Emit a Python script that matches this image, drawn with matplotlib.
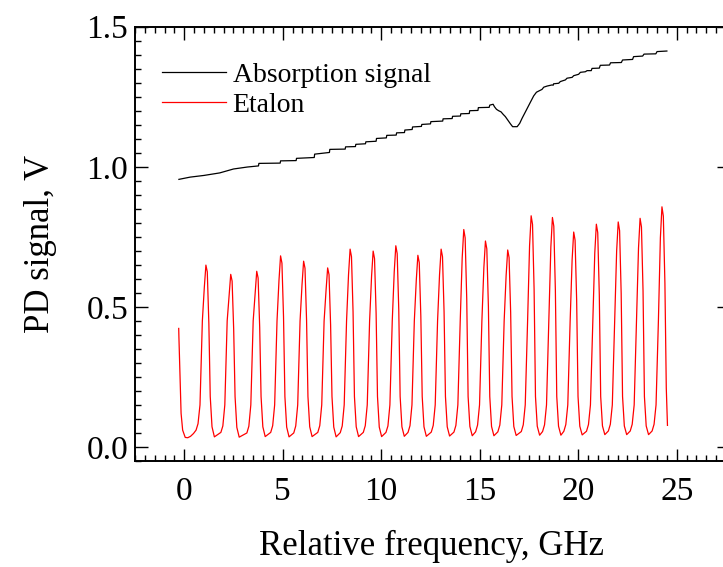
import matplotlib
matplotlib.use("Agg")
import matplotlib.pyplot as plt
from matplotlib.ticker import MultipleLocator

# absorption signal (GHz, V)
absorb_x = [-0.27, 0.30, 1.00, 1.80, 2.50, 3.20, 3.77, 3.79, 4.87, 4.89, 5.68, 5.70,
            6.60, 6.62, 7.37, 7.39, 8.17, 8.19, 8.69, 8.71, 9.20, 9.22, 9.74, 9.76,
            10.26, 10.28, 10.76, 10.78, 11.18, 11.20, 11.57, 11.59, 12.04, 12.06,
            12.50, 12.52, 13.12, 13.14, 13.60, 13.62, 14.02, 14.04, 14.47, 14.49,
            14.91, 14.93, 15.48, 15.51, 15.68, 15.75, 15.85, 15.96, 16.08, 16.19,
            16.30, 16.42, 16.56, 16.67, 16.90, 17.03, 17.15, 17.32, 17.54, 17.74,
            17.88, 17.99, 18.16, 18.25, 18.42, 18.67, 18.73, 18.75, 19.01, 19.09,
            19.35, 19.43, 19.69, 19.77, 20.02, 20.11, 20.36, 20.45, 20.66, 20.70,
            21.07, 21.12, 21.59, 21.64, 22.19, 22.25, 22.76, 22.81, 23.27, 23.34,
            23.94, 24.00, 24.50]
absorb_y = [0.955, 0.963, 0.969, 0.978, 0.992, 0.999, 1.003, 1.012, 1.013, 1.021, 1.022, 1.030,
            1.033, 1.045, 1.051, 1.062, 1.063, 1.071, 1.072, 1.080, 1.082, 1.089, 1.091, 1.101,
            1.103, 1.112, 1.113, 1.121, 1.122, 1.131, 1.133, 1.142, 1.144, 1.151,
            1.153, 1.161, 1.163, 1.171, 1.172, 1.180, 1.181, 1.189, 1.190, 1.200,
            1.201, 1.211, 1.212, 1.220, 1.223, 1.214, 1.205, 1.200, 1.196, 1.187,
            1.179, 1.167, 1.153, 1.143, 1.143, 1.155, 1.173, 1.196, 1.226, 1.253,
            1.266, 1.270, 1.276, 1.284, 1.288, 1.292, 1.291, 1.296, 1.298, 1.304,
            1.310, 1.316, 1.319, 1.325, 1.330, 1.337, 1.339, 1.343, 1.343, 1.351,
            1.352, 1.362, 1.363, 1.371, 1.372, 1.381, 1.383, 1.393, 1.395, 1.402,
            1.403, 1.411, 1.413]

# etalon transmission, one row per fringe
etalon_x = [-0.28, -0.27, -0.16, -0.08, 0.05, 0.18, 0.32, 0.47, 0.60, 0.70, 0.80, 0.92, 1.02,
            1.10, 1.17, 1.25, 1.32, 1.41, 1.53, 1.86, 1.96, 2.06, 2.18, 2.28,
            2.36, 2.43, 2.51, 2.58, 2.67, 2.79, 3.18, 3.28, 3.38, 3.50, 3.60,
            3.68, 3.75, 3.83, 3.90, 3.99, 4.11, 4.39, 4.49, 4.59, 4.71, 4.81,
            4.89, 4.96, 5.04, 5.11, 5.20, 5.32, 5.56, 5.66, 5.76, 5.88, 5.98,
            6.06, 6.13, 6.21, 6.28, 6.37, 6.49, 6.78, 6.88, 6.98, 7.10, 7.20,
            7.28, 7.35, 7.43, 7.50, 7.59, 7.71, 7.92, 8.02, 8.12, 8.24, 8.34,
            8.42, 8.49, 8.57, 8.64, 8.73, 8.85, 9.09, 9.19, 9.29, 9.41, 9.51,
            9.59, 9.66, 9.74, 9.81, 9.90, 10.02, 10.24, 10.34, 10.44, 10.56, 10.66,
            10.74, 10.81, 10.89, 10.96, 11.05, 11.17, 11.36, 11.46, 11.56, 11.68, 11.78,
            11.86, 11.93, 12.01, 12.08, 12.17, 12.29, 12.54, 12.64, 12.74, 12.86, 12.96,
            13.04, 13.11, 13.19, 13.26, 13.35, 13.47, 13.69, 13.79, 13.89, 14.01, 14.11,
            14.19, 14.26, 14.34, 14.41, 14.50, 14.62, 14.79, 14.89, 14.99, 15.11, 15.21,
            15.29, 15.36, 15.44, 15.51, 15.60, 15.72, 15.92, 16.02, 16.12, 16.24, 16.34,
            16.42, 16.49, 16.57, 16.64, 16.73, 16.85, 17.11, 17.21, 17.31, 17.43, 17.53,
            17.61, 17.68, 17.76, 17.83, 17.92, 18.04, 18.19, 18.29, 18.39, 18.51, 18.61,
            18.69, 18.76, 18.84, 18.91, 19.00, 19.12, 19.27, 19.37, 19.47, 19.59, 19.69,
            19.77, 19.84, 19.92, 19.99, 20.08, 20.20, 20.42, 20.52, 20.62, 20.74, 20.84,
            20.92, 20.99, 21.07, 21.14, 21.23, 21.35, 21.53, 21.63, 21.73, 21.85, 21.95,
            22.03, 22.10, 22.18, 22.25, 22.34, 22.46, 22.64, 22.74, 22.84, 22.96, 23.06,
            23.14, 23.21, 23.29, 23.36, 23.45, 23.57, 23.75, 23.85, 23.95, 24.07, 24.17,
            24.25, 24.32, 24.40, 24.47, 24.53]
etalon_y = [0.423, 0.392, 0.120, 0.060, 0.034, 0.033, 0.038, 0.048, 0.060, 0.083, 0.150, 0.450, 0.570,
            0.649, 0.625, 0.440, 0.180, 0.072, 0.036, 0.052, 0.075, 0.150, 0.450, 0.540,
            0.616, 0.592, 0.420, 0.180, 0.070, 0.035, 0.050, 0.074, 0.150, 0.450, 0.550,
            0.627, 0.603, 0.428, 0.180, 0.072, 0.037, 0.052, 0.076, 0.150, 0.450, 0.595,
            0.682, 0.656, 0.465, 0.180, 0.071, 0.036, 0.050, 0.075, 0.150, 0.450, 0.580,
            0.663, 0.638, 0.452, 0.180, 0.072, 0.037, 0.052, 0.076, 0.150, 0.450, 0.560,
            0.639, 0.615, 0.436, 0.180, 0.071, 0.036, 0.051, 0.075, 0.150, 0.450, 0.615,
            0.706, 0.679, 0.482, 0.180, 0.072, 0.037, 0.052, 0.076, 0.150, 0.450, 0.610,
            0.699, 0.672, 0.477, 0.180, 0.071, 0.037, 0.052, 0.075, 0.150, 0.450, 0.625,
            0.718, 0.690, 0.490, 0.180, 0.072, 0.038, 0.052, 0.076, 0.150, 0.450, 0.596,
            0.684, 0.658, 0.467, 0.180, 0.072, 0.038, 0.053, 0.077, 0.150, 0.450, 0.615,
            0.706, 0.679, 0.482, 0.180, 0.072, 0.039, 0.053, 0.077, 0.150, 0.450, 0.675,
            0.776, 0.746, 0.530, 0.180, 0.073, 0.040, 0.054, 0.078, 0.150, 0.450, 0.640,
            0.735, 0.707, 0.502, 0.180, 0.073, 0.040, 0.054, 0.078, 0.150, 0.450, 0.612,
            0.703, 0.676, 0.480, 0.180, 0.073, 0.041, 0.055, 0.079, 0.150, 0.450, 0.718,
            0.825, 0.794, 0.563, 0.180, 0.074, 0.042, 0.055, 0.079, 0.150, 0.450, 0.713,
            0.819, 0.788, 0.559, 0.180, 0.074, 0.042, 0.056, 0.080, 0.150, 0.450, 0.668,
            0.767, 0.738, 0.524, 0.180, 0.074, 0.043, 0.056, 0.080, 0.150, 0.450, 0.692,
            0.795, 0.765, 0.543, 0.180, 0.075, 0.044, 0.057, 0.081, 0.150, 0.450, 0.699,
            0.803, 0.772, 0.548, 0.180, 0.075, 0.044, 0.057, 0.081, 0.150, 0.450, 0.710,
            0.816, 0.785, 0.557, 0.180, 0.075, 0.044, 0.057, 0.081, 0.150, 0.450, 0.746,
            0.857, 0.824, 0.585, 0.210, 0.077]

plt.rcParams['font.family'] = ['Liberation Serif', 'DejaVu Serif']

fig = plt.figure(figsize=(7.23, 5.67), dpi=100)
ax = fig.add_axes([0.1867, 0.187, 0.8215, 0.766])

ax.plot(absorb_x, absorb_y, color="black", lw=0.9, label="Absorption signal")
ax.plot(etalon_x, etalon_y, color="red", lw=0.9, label="Etalon")

ax.set_xlim(-2.5, 27.65)
ax.set_ylim(-0.05, 1.5)
ax.xaxis.set_major_locator(MultipleLocator(5))
ax.xaxis.set_minor_locator(MultipleLocator(0.5))
ax.yaxis.set_major_locator(MultipleLocator(0.5))
ax.yaxis.set_minor_locator(MultipleLocator(0.05))
ax.yaxis.set_major_formatter(matplotlib.ticker.FormatStrFormatter('%.1f'))

ax.tick_params(which="both", direction="in", top=True, right=True, width=1.0, labelsize=24)
ax.tick_params(which="major", length=9)
ax.tick_params(which="minor", length=4)
ax.tick_params(axis="x", pad=11)
ax.tick_params(axis="y", pad=5)
for sp in ax.spines.values():
    sp.set_linewidth(1.4)

ax.set_xlabel("Relative frequency, GHz", fontsize=25, labelpad=17)
ax.set_ylabel("PD signal, V", fontsize=25, labelpad=21)

ax.legend(loc="upper left", bbox_to_anchor=(0.045, 0.918), frameon=False,
          fontsize=20, handlelength=2.3, handletextpad=0.25, borderpad=0,
          borderaxespad=0, labelspacing=0.18)

fig.savefig("out.png", dpi=100)
